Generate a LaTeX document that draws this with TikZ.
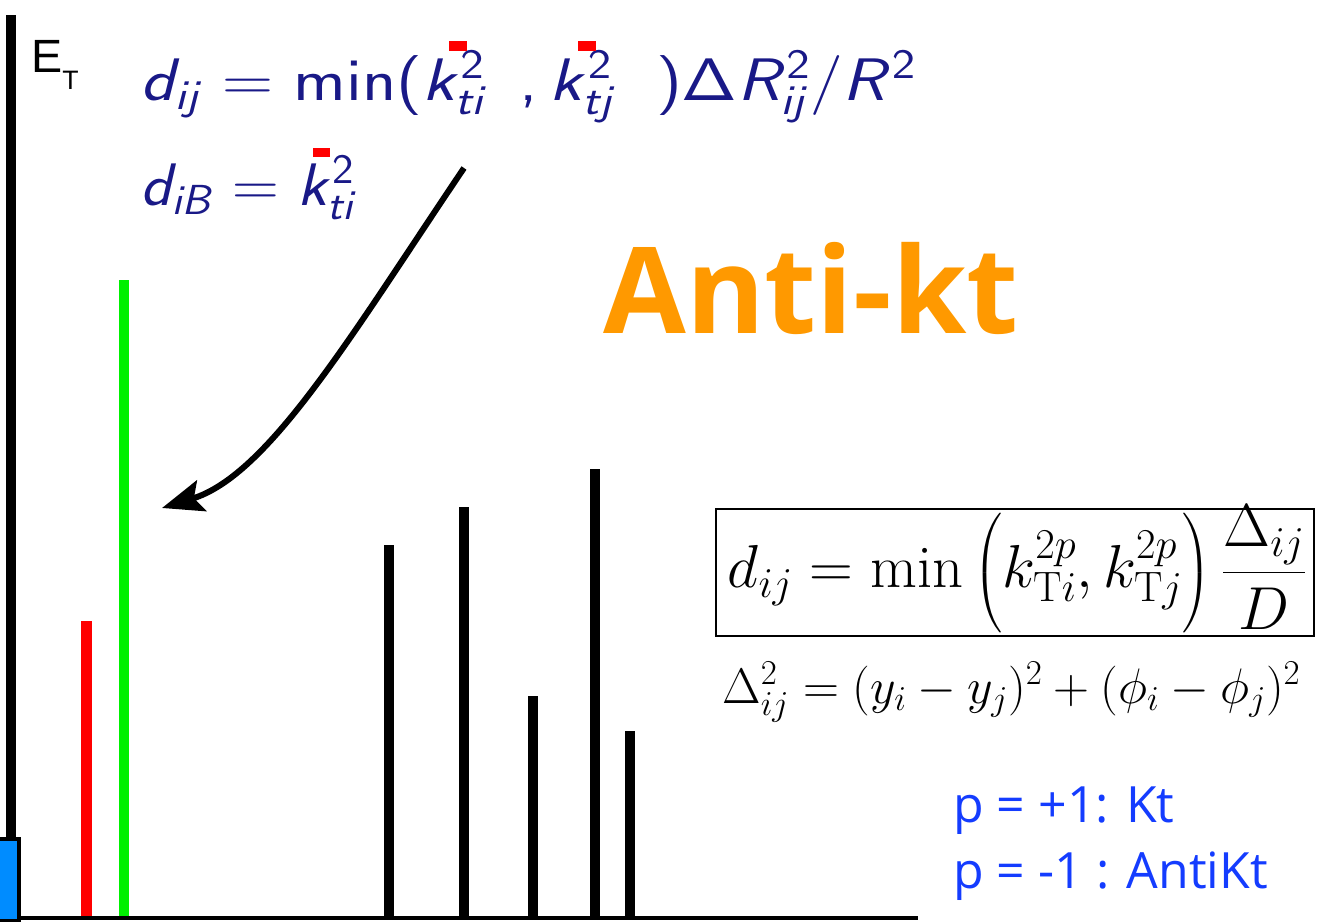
\RequirePackage{fix-cm}
\documentclass[tikz,border=0pt]{standalone}
\usepackage{amsmath}
\usepackage{fontspec}
\usetikzlibrary{arrows.meta}
\newfontfamily\arialf{Liberation Sans}
\newfontfamily\opensans{Open Sans}
\DeclareMathAlphabet{\mathsfit}{OT1}{cmss}{m}{sl}
\DeclareMathAlphabet{\mathsfup}{OT1}{cmss}{m}{n}
\definecolor{navyf}{RGB}{25,25,135}
\definecolor{barblue}{RGB}{0,140,255}
\definecolor{barred}{RGB}{255,0,0}
\definecolor{bargreen}{RGB}{0,240,0}
\definecolor{antiorange}{RGB}{255,153,0}
\definecolor{ptext}{RGB}{20,60,255}
\newcommand{\sfparen}[1]{\text{\fontencoding{OT1}\fontfamily{cmss}\selectfont #1}}
\begin{document}
\begin{tikzpicture}[x=0.75pt,y=-0.75pt,
  jetbar/.style={line width=8pt},
  topformula/.style={anchor=base west,inner sep=0pt,text=navyf,font=\fontsize{45}{50}\selectfont},
  ptextstyle/.style={anchor=base west,inner sep=0pt,text=ptext,font=\opensans\fontsize{37.5}{42}\selectfont},
  marker/.style={fill=barred,draw=none}]
\useasboundingbox (0,0) rectangle (1327,921);
% bars
\draw[jetbar,barred] (86.5,621) -- (86.5,918);
\draw[jetbar,bargreen] (124,280) -- (124,918);
\draw[jetbar] (389,545) -- (389,918);
\draw[jetbar] (464,507) -- (464,918);
\draw[jetbar] (533,696) -- (533,918);
\draw[jetbar] (595,469) -- (595,918);
\draw[jetbar] (630,731) -- (630,918);
% axes
\draw[line width=7.5pt] (11,15) -- (11,840);
\draw[line width=3pt] (0,918) -- (918,918);
\draw[fill=barblue,line width=3pt] (-3,839) rectangle (19,921);
\node[anchor=base west,inner sep=0pt,font=\arialf\fontsize{35}{40}\selectfont] (et) at (31,72) {E\raisebox{-0.38em}{\fontsize{20}{20}\selectfont T}};
% top formulas
\node[topformula] (dij) at (140,100) {\scalebox{1.18}[1]{$\mathsfit{d}_{\mathsfit{ij}} = \mathsfup{min}\sfparen{(}\mathsfit{k}^{\mathsfup{2}}_{\mathsfit{ti}}\;\,\sfparen{,}\,\mathsfit{k}^{\mathsfup{2}}_{\mathsfit{tj}}\;\;\sfparen{)}\mathsfup{\Delta}\mathsfit{R}^{\mathsfup{2}}_{\mathsfit{ij}}/\mathsfit{R}^{\mathsfup{2}}$}};
\node[topformula] (diB) at (140,205) {\scalebox{1.08}[1]{$\mathsfit{d}_{\mathsfit{iB}} = \mathsfit{k}^{\mathsfup{2}}_{\mathsfit{ti}}$}};
\fill[marker] (449,41) rectangle (467,51);
\fill[marker] (578,41) rectangle (596,51);
\fill[marker] (313,148) rectangle (330,157);
% arrow
\coordinate (arrS) at (464,168);
\coordinate (arrE) at (162,508);
\draw[line width=4.5pt,-{Stealth[length=31pt,width=24pt,inset=6pt]}] (arrS) .. controls (352,334) and (269,475) .. (arrE);
% title
\node[anchor=base west,inner sep=0pt,text=antiorange,font=\opensans\bfseries\fontsize{90}{95}\selectfont] (title) at (603,333) {Anti-kt};
% boxed formula
\node[draw,line width=1.5pt,inner sep=0pt,minimum width=448pt,minimum height=95pt] (box) at (1015,572.5) {};
\node[inner sep=0pt,font=\fontsize{45.5}{50}\selectfont] (boxf) at (1017,569) {$\displaystyle d_{ij} = \min\,\Bigl(k_{\mathrm{T}i}^{2p},k_{\mathrm{T}j}^{2p}\Bigr)\,\frac{\Delta_{ij}}{D}$};
\node[anchor=base west,inner sep=0pt,font=\fontsize{37.4}{42}\selectfont] (delta) at (722,703) {$\Delta_{ij}^2=(y_i-y_j)^2+(\phi_i-\phi_j)^2$};
% p text
\node[ptextstyle] (p1) at (953,822) {p = +1: Kt};
\node[ptextstyle] (p2) at (953,888) {p = -1 : AntiKt};
\end{tikzpicture}
\end{document}
